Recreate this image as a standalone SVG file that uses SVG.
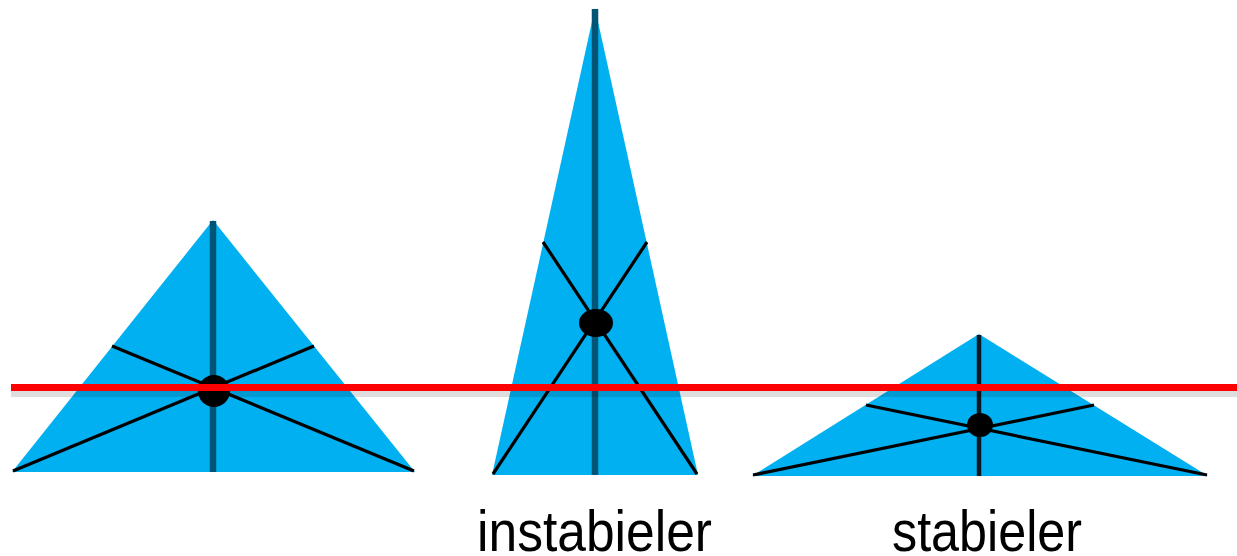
<svg xmlns="http://www.w3.org/2000/svg" width="1237" height="556" viewBox="0 0 1237 556">
  <style>
    .tri { fill: #00b0f0; }
    .axis { stroke: #005577; stroke-width: 6.5; }
    .axis3 { stroke: #0a1a22; stroke-width: 4.5; }
    .med { stroke: #000; stroke-width: 3.2; }
    .dot { fill: #000; }
    .lbl { font-family: "Liberation Sans", Arial, sans-serif; font-size: 57px; fill: #000; }
  </style>
  <rect width="1237" height="556" fill="#fff"/>
  <g id="triangle-left">
    <polygon class="tri" points="213,220 12,472 415,472"/>
    <line class="axis" x1="213" y1="221" x2="213" y2="472"/>
    <line class="med" x1="13" y1="471" x2="314" y2="346"/>
    <line class="med" x1="414" y1="471" x2="112" y2="346"/>
    <ellipse class="dot" cx="214" cy="391" rx="16" ry="16"/>
  </g>
  <g id="triangle-middle">
    <polygon class="tri" points="595,8 492,475 698,475"/>
    <line class="axis" x1="595" y1="9" x2="595" y2="475"/>
    <line class="med" x1="493" y1="474" x2="647" y2="242"/>
    <line class="med" x1="697" y1="474" x2="543" y2="242"/>
    <ellipse class="dot" cx="596" cy="323" rx="17" ry="14"/>
  </g>
  <g id="triangle-right">
    <polygon class="tri" points="979,334 752,476 1208,476"/>
    <line class="axis3" x1="979" y1="335" x2="979" y2="476"/>
    <line class="med" x1="753" y1="475" x2="1094" y2="405"/>
    <line class="med" x1="1207" y1="475" x2="866" y2="405"/>
    <ellipse class="dot" cx="980" cy="425" rx="13" ry="12"/>
  </g>
  <g id="connectors">
    <rect x="11" y="391" width="1226" height="6" fill="#000" opacity="0.13"/>
    <line x1="11" y1="387.5" x2="1237" y2="387.5" stroke="#ff0000" stroke-width="7"/>
  </g>
  <g id="labels">
    <text class="lbl" x="477" y="551" textLength="235" lengthAdjust="spacingAndGlyphs">instabieler</text>
    <text class="lbl" x="892" y="551" textLength="190" lengthAdjust="spacingAndGlyphs">stabieler</text>
  </g>
</svg>
